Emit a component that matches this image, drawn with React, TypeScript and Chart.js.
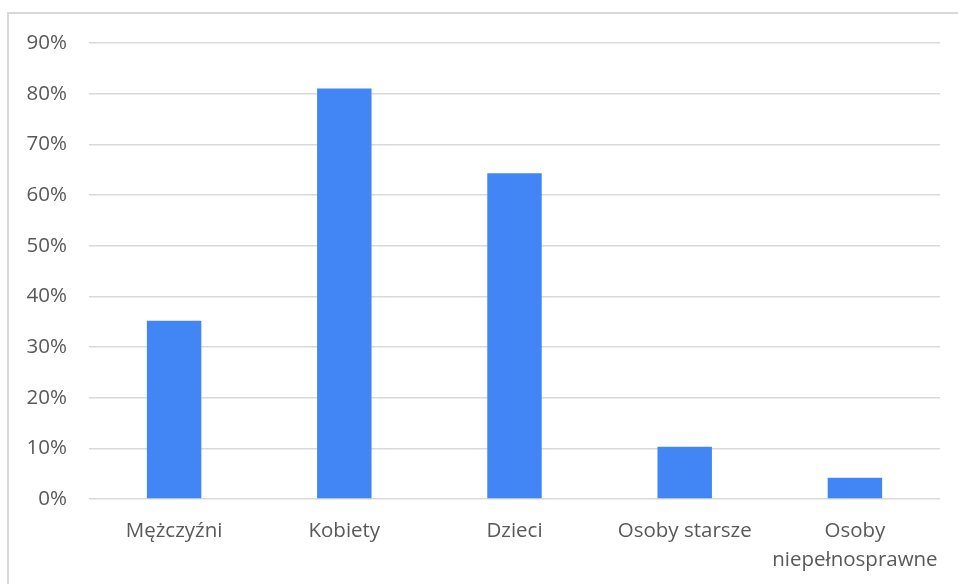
import React, { useEffect, useRef } from "react";
import { Chart, registerables } from "chart.js";

Chart.register(...registerables);

const categories: (string | string[])[] = [
  "Mężczyźni",
  "Kobiety",
  "Dzieci",
  "Osoby starsze",
  ["Osoby", "niepełnosprawne"],
];
const values: number[] = [35.2, 81, 64.3, 10.3, 4.2];
const yTicks: number[] = [0, 10, 20, 30, 40, 50, 60, 70, 80, 90];

const FONT = "'Open Sans', sans-serif";

export default function App() {
  const ref = useRef<HTMLCanvasElement | null>(null);

  useEffect(() => {
    if (!ref.current) return;
    const chart = new Chart(ref.current, {
      type: "bar",
      data: {
        labels: categories,
        datasets: [
          {
            data: values,
            backgroundColor: "#4286f5",
            borderWidth: 0,
            categoryPercentage: 1,
            barPercentage: 0.32,
          },
        ],
      },
      options: {
        responsive: false,
        animation: false,
        devicePixelRatio: 1,
        layout: { padding: { top: 43, right: 18, bottom: 0, left: 0 } },
        plugins: { legend: { display: false }, tooltip: { enabled: false } },
        scales: {
          x: {
            grid: { display: false, drawTicks: false },
            border: { display: false },
            ticks: {
              color: "#595959",
              font: { family: FONT, size: 20.5, lineHeight: 1.41 },
              padding: 18,
              maxRotation: 0,
              autoSkip: false,
            },
            afterFit: (scale: any) => {
              scale.height = 85;
            },
          },
          y: {
            min: 0,
            max: 90,
            afterBuildTicks: (scale: any) => {
              scale.ticks = yTicks.map((v) => ({ value: v }));
            },
            grid: { color: "#d9d9d9", lineWidth: 1.5, drawTicks: false },
            border: { display: false },
            ticks: {
              color: "#595959",
              font: { family: FONT, size: 20.5 },
              padding: 22,
              callback: (v: any) => `${v}%`,
            },
            afterFit: (scale: any) => {
              scale.width = 89;
            },
          },
        },
      },
    });
    return () => chart.destroy();
  }, []);

  return (
    <div style={{ position: "fixed", left: 0, top: 0, width: 958, height: 584, background: "#fff", overflow: "hidden" }}>
      <div
        style={{
          position: "absolute",
          left: 7,
          top: 12,
          width: 1000,
          height: 1000,
          border: "2px solid #d9d9d9",
          boxSizing: "border-box",
        }}
      />
      <canvas ref={ref} width={958} height={584} style={{ position: "absolute", left: 0, top: 0 }} />
    </div>
  );
}
